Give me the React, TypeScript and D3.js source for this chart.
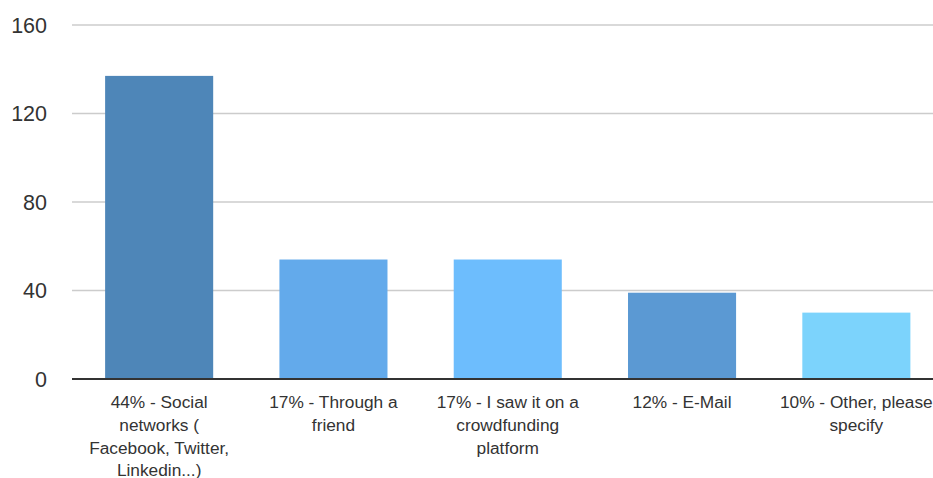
import React from "react";
import * as d3 from "d3";

const categories = [
  "44% - Social networks ( Facebook, Twitter, Linkedin...)",
  "17% - Through a friend",
  "17% - I saw it on a crowdfunding platform",
  "12% - E-Mail",
  "10% - Other, please specify",
];
const values = [137, 54, 54, 39, 30];
const colors = ["#4e86b8", "#63aaeb", "#6dbdfd", "#5b99d3", "#7cd3fc"];
const yTicks = [0, 40, 80, 120, 160];

const W = 933;
const H = 478;
const FONT = "'Liberation Sans', Arial, sans-serif";
const LABEL_SIZE = 17.3;

function wrap(text: string, maxW: number): string[] {
  let ctx: CanvasRenderingContext2D | null = null;
  try {
    ctx = document.createElement("canvas").getContext("2d");
  } catch (e) {
    ctx = null;
  }
  const measure = (s: string) => {
    if (ctx) {
      ctx.font = `${LABEL_SIZE}px ${FONT}`;
      return ctx.measureText(s).width;
    }
    return s.length * LABEL_SIZE * 0.5;
  };
  const words = text.split(" ");
  const lines: string[] = [];
  let cur = "";
  for (const w of words) {
    const cand = cur ? cur + " " + w : w;
    if (measure(cand) <= maxW || !cur) cur = cand;
    else {
      lines.push(cur);
      cur = w;
    }
  }
  if (cur) lines.push(cur);
  return lines;
}

export default function App() {
  const x = d3
    .scaleBand<string>()
    .domain(categories)
    .range([72, 943.5])
    .paddingInner(0.38)
    .paddingOuter(0.19);
  const y = d3.scaleLinear().domain([0, 160]).range([379, 25]);

  return (
    <svg
      width={W}
      height={H}
      style={{ position: "absolute", left: 0, top: 0, background: "#fff" }}
      fontFamily={FONT}
    >
      {yTicks.map((t) => (
        <g key={t}>
          {t !== 0 && (
            <line x1={72} x2={W} y1={y(t)} y2={y(t)} stroke="#cccccc" strokeWidth={1.5} />
          )}
          <text
            x={47}
            y={y(t)}
            dy="0.36em"
            textAnchor="end"
            fontSize={21.5}
            fill="#333333"
          >
            {t}
          </text>
        </g>
      ))}
      {categories.map((c, i) => (
        <rect
          key={c}
          x={x(c)}
          y={y(values[i])}
          width={x.bandwidth()}
          height={y(0) - y(values[i])}
          fill={colors[i]}
        />
      ))}
      <line x1={72} x2={W} y1={y(0)} y2={y(0)} stroke="#333333" strokeWidth={2} />
      {categories.map((c) => {
        const lines = wrap(c, 158);
        const cx = (x(c) as number) + x.bandwidth() / 2;
        return (
          <text key={c} textAnchor="middle" fontSize={LABEL_SIZE} fill="#333333">
            {lines.map((l, j) => (
              <tspan key={j} x={cx} y={408 + j * 22.8}>
                {l}
              </tspan>
            ))}
          </text>
        );
      })}
    </svg>
  );
}
